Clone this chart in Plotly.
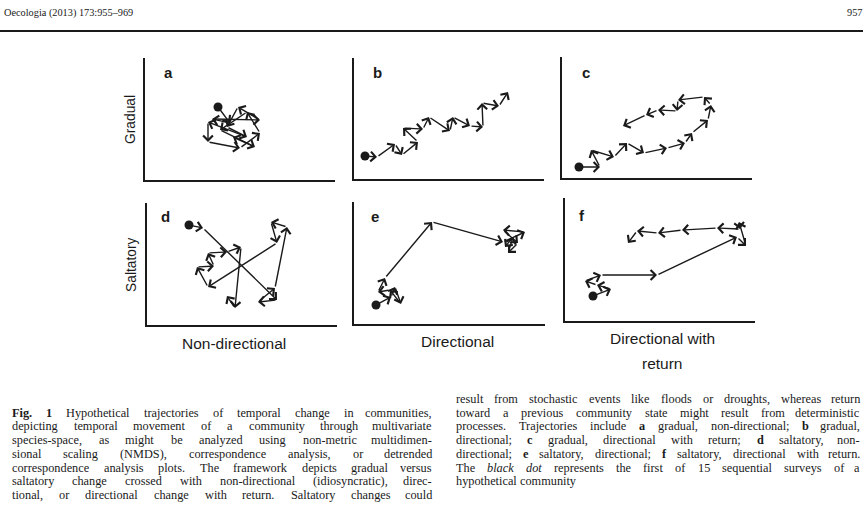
import plotly.graph_objects as go

W, H = 865, 506
INK = '#1a1a1a'

# ---------------- data (trajectory points, panel units) ----------------
a_x = [73, 85, 67, 115, 93, 82, 102, 63, 63, 95, 115, 102, 75, 110, 88]
a_y = [73, 57, 61, 60, 73, 53, 43, 58, 38, 32, 47, 68, 50, 33, 43]

b_x = [11, 23, 41, 48, 64, 49, 69, 75, 96, 99, 116, 129, 128, 145, 154]
b_y = [23, 22, 35, 24, 37, 51, 50, 62, 48, 62, 53, 52, 76, 73, 87]

c_x = [17, 38, 29, 52, 65, 82, 105, 123, 130, 146, 149, 142, 116, 115, 96, 84, 61]
c_y = [11, 11, 28, 21, 35, 25, 30, 35, 45, 58, 73, 81, 78, 67, 68, 63, 52]

d_x = [42, 56, 130, 111, 128, 140, 124, 130, 61, 50, 67, 61, 80, 94, 88, 80]
d_y = [100, 97, 25, 23, 37, 98, 103, 82, 38, 58, 59, 72, 73, 78, 17, 29]

e_x = [22, 37, 41, 47, 36, 24, 31, 78, 149, 171, 149, 164, 154, 159, 151]
e_y = [19, 27, 37, 20, 34, 32, 46, 102, 82, 92, 94, 81, 71, 87, 77]

f_x = [28, 46, 32, 20, 36, 92, 172, 181, 174, 175, 152, 117, 93, 72, 63]
f_y = [25, 32, 36, 40, 46, 46, 84, 75, 99, 92, 93, 91, 88, 90, 78]

panel_letters = ['a', 'b', 'c', 'd', 'e', 'f']
row_labels = ['Gradual', 'Saltatory']
col_labels = ['Non-directional', 'Directional', 'Directional with', 'return']
header_left = 'Oecologia (2013) 173:955–969'
header_right = '957'

caption_left = [
    '**Fig.** **1** Hypothetical trajectories of temporal change in communities,',
    'depicting temporal movement of a community through multivariate',
    'species-space, as might be analyzed using non-metric multidimen-',
    'sional scaling (NMDS), correspondence analysis, or detrended',
    'correspondence analysis plots. The framework depicts gradual versus',
    'saltatory change crossed with non-directional (idiosyncratic), direc-',
    'tional, or directional change with return. Saltatory changes could',
]
caption_right = [
    'result from stochastic events like floods or droughts, whereas return',
    'toward a previous community state might result from deterministic',
    'processes. Trajectories include **a** gradual, non-directional; **b** gradual,',
    'directional; **c** gradual, directional with return; **d** saltatory, non-',
    'directional; **e** saltatory, directional; **f** saltatory, directional with return.',
    'The *black dot* represents the first of 15 sequential surveys of a',
    'hypothetical community',
]

# ---------------- layout constants (pixels) ----------------
boxes = [(145, 335, 58, 180), (354, 544, 58, 179), (562, 752, 57, 178),
         (147, 337, 203, 325), (354, 545, 202, 324), (565, 755, 198, 321)]
letter_pos = [(168, 73), (377, 73), (586, 73), (165, 217), (375, 217), (582, 216)]
row_label_pos = [(131, 120), (131, 265)]
col_label_pos = [(234, 344), (457, 342), (662, 339), (662, 364)]

FS = 12.3          # caption font size
LS = 13.7          # caption line spacing
CAP_TOP = 400.0    # centre of first line of right column

TR = dict(zip('abcdefghijklmnopqrstuvwxyz',
              [444, 500, 444, 500, 444, 333, 500, 500, 278, 278, 500, 278, 778,
               500, 500, 500, 500, 333, 389, 278, 500, 500, 722, 500, 500, 444]))
TR.update(dict(zip('ABCDEFGHIJKLMNOPQRSTUVWXYZ',
                   [722, 667, 667, 722, 611, 556, 722, 722, 333, 389, 722, 611, 889,
                    722, 722, 556, 722, 667, 556, 611, 722, 722, 944, 722, 722, 611])))
TR.update({c: 500 for c in '0123456789'})
TR.update({' ': 250, ',': 250, '.': 250, '-': 333, '(': 333, ')': 333, ';': 278, ':': 278})
TB = dict(TR)
TB.update({'a': 500, 'b': 556, 'd': 556, 'F': 611, 'f': 333})
TI = dict(TR)
TI.update({'a': 500, 'k': 444, 'b': 500})


def word_width(w, s):
    tbl = TB if s == 'b' else TI if s == 'i' else TR
    return sum(tbl.get(ch, 500) for ch in w) / 1000.0 * FS


def tokens(line):
    out = []
    ital = False
    for w in line.split(' '):
        if w.startswith('**') and w.endswith('**'):
            out.append((w[2:-2], 'b'))
            continue
        st = 'i' if ital else 'r'
        if w.startswith('*'):
            w = w[1:]
            ital = True
            st = 'i'
        if w.endswith('*'):
            w = w[:-1]
            ital = False
            st = 'i'
        out.append((w, st))
    return out


anns = []
serif = dict(family='Liberation Serif', size=FS, color=INK)
sans = 'Liberation Sans'


def place_line(line, L, R, yc, justify):
    tk = tokens(line)
    ws = [word_width(w, s) for w, s in tk]
    n = len(tk)
    gap = (R - L - sum(ws)) / (n - 1) if (justify and n > 1) else 0.25 * FS
    x = L
    for i, ((w, s), wd) in enumerate(zip(tk, ws)):
        last = justify and i == n - 1
        txt = f'<b>{w}</b>' if s == 'b' else f'<i>{w}</i>' if s == 'i' else w
        anns.append(dict(text=txt, xref='paper', yref='paper',
                         x=(R if last else x) / W, y=1 - (yc - 1.0) / H,
                         xanchor='right' if last else 'left', yanchor='middle',
                         showarrow=False, font=serif, borderpad=0))
        x += wd + gap


for k, line in enumerate(caption_left):
    place_line(line, 11, 433, CAP_TOP + LS * (k + 1), True)
for k, line in enumerate(caption_right):
    place_line(line, 455, 861, CAP_TOP + LS * k, k < len(caption_right) - 1)

# header
for txt, px, anc in [(header_left, 3, 'left'), (header_right, 863, 'right')]:
    anns.append(dict(text=txt, xref='paper', yref='paper', x=px / W, y=1 - 13 / H,
                     xanchor=anc, yanchor='middle', showarrow=False, borderpad=0,
                     font=dict(family='Liberation Serif', size=10.3, color=INK)))

# row / column labels
for lab, (px, py) in zip(row_labels, row_label_pos):
    anns.append(dict(text=lab, xref='paper', yref='paper', x=px / W, y=1 - py / H,
                     xanchor='center', yanchor='middle', textangle=-90, showarrow=False,
                     font=dict(family=sans, size=13.8, color=INK)))
for lab, (px, py) in zip(col_labels, col_label_pos):
    anns.append(dict(text=lab, xref='paper', yref='paper', x=px / W, y=1 - (py - 1) / H,
                     xanchor='center', yanchor='middle', showarrow=False,
                     font=dict(family=sans, size=15.5, color=INK)))
for lab, (px, py) in zip(panel_letters, letter_pos):
    anns.append(dict(text=f'<b>{lab}</b>', xref='paper', yref='paper', x=px / W, y=1 - (py - 1) / H,
                     xanchor='center', yanchor='middle', showarrow=False,
                     font=dict(family=sans, size=15, color=INK)))

fig = go.Figure()
series = [(a_x, a_y), (b_x, b_y), (c_x, c_y), (d_x, d_y), (e_x, e_y), (f_x, f_y)]
layout = {}
for i, ((xs, ys), (x0, x1, yt, yb)) in enumerate(zip(series, boxes)):
    n = '' if i == 0 else str(i + 1)
    ax_common = dict(showline=True, linecolor=INK, linewidth=2, showgrid=False,
                     zeroline=False, showticklabels=False, ticks='', fixedrange=True)
    layout['xaxis' + n] = dict(domain=[x0 / W, x1 / W], range=[0, x1 - x0], anchor='y' + n, **ax_common)
    layout['yaxis' + n] = dict(domain=[1 - yb / H, 1 - yt / H], range=[0, yb - yt], anchor='x' + n, **ax_common)
    for j in range(1, len(xs)):
        anns.append(dict(text='', x=xs[j], y=ys[j], ax=xs[j - 1], ay=ys[j - 1],
                         xref='x' + n, yref='y' + n, axref='x' + n, ayref='y' + n,
                         showarrow=True, arrowhead=4, arrowsize=1.35, arrowwidth=1.4,
                         arrowcolor=INK, standoff=0, startstandoff=0))
    fig.add_trace(go.Scatter(x=[xs[0]], y=[ys[0]], mode='markers',
                             marker=dict(size=9, color=INK), xaxis='x' + n, yaxis='y' + n,
                             hoverinfo='skip', showlegend=False, cliponaxis=False))

fig.update_layout(width=W, height=H, margin=dict(l=0, r=0, t=0, b=0),
                  paper_bgcolor='white', plot_bgcolor='white', showlegend=False,
                  annotations=anns,
                  shapes=[dict(type='line', xref='paper', yref='paper', x0=0, x1=863 / W,
                               y0=1 - 31 / H, y1=1 - 31 / H, line=dict(color=INK, width=2))],
                  **layout)
fig.write_html('out.html')
